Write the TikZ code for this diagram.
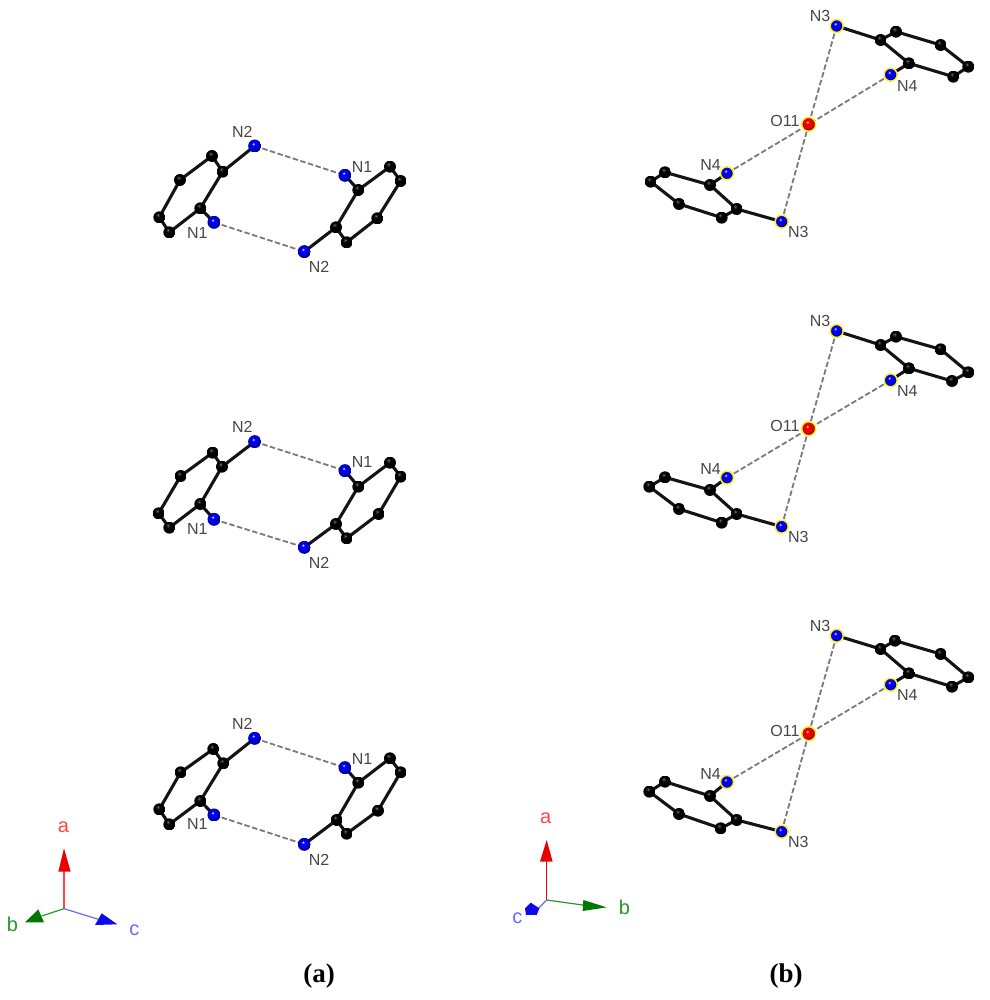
\documentclass[tikz,border=0pt]{standalone}
\usepackage{fontspec}
\setmainfont{Liberation Sans}
\newfontfamily\capfont{Liberation Serif}
\usetikzlibrary{backgrounds}
\definecolor{labelgrey}{RGB}{70,70,70}
\definecolor{axred}{RGB}{255,70,70}
\definecolor{axgreen}{RGB}{40,150,40}
\definecolor{axblue}{RGB}{105,105,255}
\definecolor{headgreen}{RGB}{0,120,0}
\definecolor{headred}{RGB}{235,0,0}
\definecolor{headblue}{RGB}{10,10,235}
\definecolor{ringyellow}{RGB}{250,240,40}
\tikzset{
  balllook/.style n args={3}{path picture={
    \fill[#1] (path picture bounding box.south west) rectangle (path picture bounding box.north east);
    \fill[#2] (path picture bounding box.center)++(-0.4pt,0.6pt) circle (#3*0.8);
    \fill[#2!55!white] (path picture bounding box.center)++(-0.9pt,1.6pt) circle (1.5pt);
    \fill[#2!20!white] (path picture bounding box.center)++(-0.9pt,1.8pt) circle (0.7pt);
  }},
  atomC/.style={circle,inner sep=0pt,minimum size=12pt,path picture={
    \fill[black] (path picture bounding box.south west) rectangle (path picture bounding box.north east);
    \fill[black!85] (path picture bounding box.center)++(-1pt,1.8pt) circle (2pt);
    \fill[black!55] (path picture bounding box.center)++(-1pt,1.9pt) circle (0.8pt);
  }},
  atomN/.style={circle,inner sep=0pt,minimum size=13pt,balllook={blue!60!black}{blue!92!black}{6.5pt}},
  atomNy/.style={circle,inner sep=0pt,minimum size=13pt,balllook={blue!60!black}{blue!92!black}{6.5pt},draw=ringyellow,line width=1.5pt},
  atomOy/.style={circle,inner sep=0pt,minimum size=14pt,balllook={red!60!black}{red!92!black}{7pt},draw=ringyellow,line width=1.5pt},
  atomlabel/.style={inner sep=0pt,text=labelgrey,font=\fontsize{16}{16}\selectfont},
  axlabel/.style={inner sep=0pt,font=\fontsize{20}{20}\selectfont},
  capt/.style={inner sep=0pt,font=\capfont\bfseries\fontsize{27}{27}\selectfont},
  bond/.style={draw=black!92,line width=3.1pt,line cap=round},
  contact/.style={draw=black!52,line width=1.8pt,dash pattern=on 5.5pt off 2.5pt}
}
% #1 prefix, #2 x origin, #3 y origin, #4 C atoms, #5 N atoms, #6 labels, #7 style for N
\newcommand{\atomset}[7]{%
  \begin{scope}[shift={(#2,#3)},x=0.3333pt,y=-0.3333pt]
    \foreach \n/\px/\py in {#4} \node[atomC] (#1\n) at (\px,\py) {};
    \foreach \n/\px/\py in {#5} \node[#7] (#1\n) at (\px,\py) {};
    \foreach \t/\n/\px/\py in {#6} \node[atomlabel] (#1l\n) at (\px,\py) {\t};
  \end{scope}}
\newcommand{\bondsA}[1]{%
  \begin{pgfonlayer}{background}
    \foreach \u/\v in {P/a,a/b,b/c,c/d,d/e,e/f,f/a,f/Q,R/g,g/h,h/i,i/j,j/k,k/l,l/g,l/S}
      \draw[bond] (#1\u.center) -- (#1\v.center);
    \draw[contact] (#1P.center) -- (#1R.center);
    \draw[contact] (#1Q.center) -- (#1S.center);
  \end{pgfonlayer}}
\newcommand{\bondsB}[1]{%
  \begin{pgfonlayer}{background}
    \foreach \u/\v in {P/a,a/b,b/c,c/d,d/e,e/f,f/a,f/Q,R/g,g/h,h/i,i/j,j/k,k/l,l/g,l/S}
      \draw[bond] (#1\u.center) -- (#1\v.center);
    \foreach \u in {P,Q,R,S}
      \draw[contact] (#1\u.center) -- (#1O.center);
  \end{pgfonlayer}}
\begin{document}
\begin{tikzpicture}[x=1pt,y=-1pt]
\useasboundingbox (0,0) rectangle (989,1000);
% ---- panel (a)
\atomset{A}{140}{110}
 {a/248/185,b/216/138,c/120/210,d/58/322,e/88/367,f/181/295,g/655/240,h/750/170,i/782/213,j/712/325,k/620/397,l/588/352}
 {P/344/108,Q/222/337,R/615/196,S/493/425}
 {N2/1/307/65,N1/2/666/170,N1/3/172/370,N2/4/537/472}{atomN}
\bondsA{A}
\atomset{B}{140}{410}
 {a/246/170,b/218/128,c/122/198,d/56/310,e/88/353,f/181/282,g/655/230,h/750/158,i/782/200,j/716/312,k/620/385,l/588/342}
 {P/344/95,Q/222/328,R/615/182,S/493/412}
 {N2/1/307/52,N1/2/666/155,N1/3/172/358,N2/4/537/460}{atomN}
\bondsA{B}
\atomset{C}{140}{705}
 {a/250/175,b/220/132,c/122/202,d/58/313,e/88/358,f/181/288,g/655/233,h/750/160,i/782/202,j/714/317,k/620/386,l/590/345}
 {P/344/100,Q/222/330,R/615/188,S/493/418}
 {N2/1/307/58,N1/2/666/162,N1/3/172/358,N2/4/537/465}{atomN}
\bondsA{C}
% ---- panel (b)
\atomset{D}{630}{0}
 {a/752/120,b/798/95,c/932/135,d/1015/200,e/970/230,f/837/190,g/240/555,h/105/517,i/62/545,j/147/612,k/275/653,l/320/627}
 {P/620/78,Q/782/224,R/291/520,S/455/665}
 {N3/1/570/48,N4/2/832/258,O11/3/465/362,N4/4/242/495,N3/5/505/697}{atomNy}
\node[atomOy] (DO) at (808.7,124.3) {};
\bondsB{D}
\atomset{E}{630}{305}
 {a/752/120,b/798/95,c/932/133,d/1015/202,e/966/228,f/837/190,g/240/555,h/105/517,i/58/545,j/147/612,k/275/653,l/320/627}
 {P/620/78,Q/782/226,R/291/518,S/455/665}
 {N3/1/570/48,N4/2/832/258,O11/3/465/362,N4/4/242/493,N3/5/505/697}{atomNy}
\node[atomOy] (EO) at (808.7,428.7) {};
\bondsB{E}
\atomset{F}{630}{610}
 {a/752/117,b/795/92,c/932/132,d/1015/202,e/966/230,f/837/190,g/240/558,h/105/515,i/58/545,j/147/612,k/272/655,l/320/630}
 {P/620/77,Q/782/224,R/291/516,S/455/665}
 {N3/1/570/48,N4/2/832/256,O11/3/465/362,N4/4/242/493,N3/5/505/697}{atomNy}
\node[atomOy] (FO) at (808.7,733.7) {};
\bondsB{F}
% ---- axes (a)
\begin{scope}[shift={(0,810)},x=0.3333pt,y=-0.3333pt]
  \coordinate (ao) at (192,296);
  \coordinate (aa) at (192,180);
  \coordinate (ab) at (125,318);
  \coordinate (ac) at (295,328);
  \draw[axred,line width=1.2pt] (ao) -- (aa);
  \draw[axgreen,line width=1.2pt] (ao) -- (ab);
  \draw[axblue,line width=1.2pt] (ao) -- (ac);
  \fill[headred] (192,115) -- (212,185) -- (175,185) -- cycle;
  \fill[headgreen] (75,337) -- (115,298) -- (132,337) -- cycle;
  \fill[headblue] (352,343) -- (305,310) -- (285,345) -- cycle;
  \node[axlabel,text=axred] (ala) at (190,53) {a};
  \node[axlabel,text=axgreen] (alb) at (37,342) {b};
  \node[axlabel,text=axblue] (alc) at (403,360) {c};
\end{scope}
% ---- axes (b)
\begin{scope}[shift={(490,800)},x=0.3333pt,y=-0.3333pt]
  \coordinate (bo) at (170,300);
  \coordinate (ba) at (170,180);
  \coordinate (bb) at (285,316);
  \coordinate (bc) at (135,335);
  \draw[red,line width=1.2pt] (bo) -- (ba);
  \draw[axgreen,line width=1.2pt] (bo) -- (bb);
  \draw[axblue,line width=1.2pt] (bo) -- (bc);
  \fill[headred] (170,120) -- (188,185) -- (150,185) -- cycle;
  \fill[headgreen] (350,322) -- (280,300) -- (278,333) -- cycle;
  \fill[headblue] (105,325) -- (122,308) -- (148,325) -- (140,345) -- (108,345) -- cycle;
  \node[axlabel,text=axred] (bla) at (167,56) {a};
  \node[axlabel,text=axgreen] (blb) at (403,323) {b};
  \node[axlabel,text=axblue] (blc) at (82,356) {c};
\end{scope}
% ---- captions
\node[capt] (capa) at (319,976) {(a)};
\node[capt] (capb) at (786,976) {(b)};
\end{tikzpicture}
\end{document}
